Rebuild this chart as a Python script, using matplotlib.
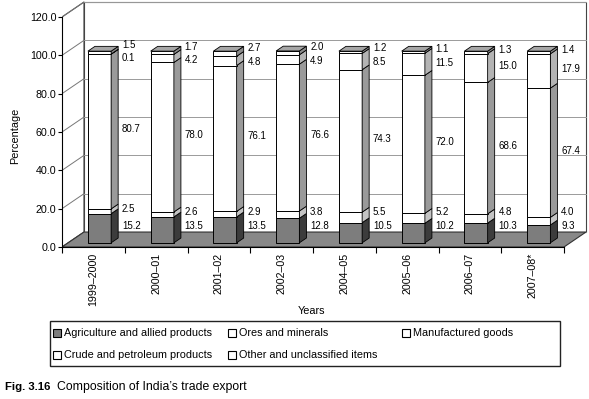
import matplotlib

matplotlib.use("Agg")
import matplotlib.pyplot as plt
from matplotlib.patches import Polygon, Rectangle

plt.rcParams["font.family"] = ["Liberation Sans", "DejaVu Sans"]

years = ["1999–2000", "2000–01", "2001–02", "2002–03",
         "2004–05", "2005–06", "2006–07", "2007–08*"]
agriculture = [15.2, 13.5, 13.5, 12.8, 10.5, 10.2, 10.3, 9.3]
ores = [2.5, 2.6, 2.9, 3.8, 5.5, 5.2, 4.8, 4.0]
manufactured = [80.7, 78.0, 76.1, 76.6, 74.3, 72.0, 68.6, 67.4]
crude = [0.1, 4.2, 4.8, 4.9, 8.5, 11.5, 15.0, 17.9]
other = [1.5, 1.7, 2.7, 2.0, 1.2, 1.1, 1.3, 1.4]

series = [agriculture, ores, manufactured, crude, other]
names = ["Agriculture and allied products", "Ores and minerals",
         "Manufactured goods", "Crude and petroleum products",
         "Other and unclassified items"]
front_col = ["#7d7d7d", "white", "white", "white", "white"]
side_col = ["#3c3c3c", "#c4c4c4", "#9a9a9a", "#b4b4b4", "#8a8a8a"]

n = len(years)
DX, DY = 0.35, 7.8          # depth of the walls/floor (data units)
bx, by = 0.28 * DX, 0.28 * DY   # bar front offset into the depth
ddx, ddy = 0.32 * DX, 0.32 * DY  # bar depth
w = 0.37

fig = plt.figure(figsize=(5.89, 3.99), dpi=100)
ax = fig.add_axes([62 / 589, 1 - 247 / 399, 527 / 589, 247 / 399])
ax.set_xlim(0, 527 / 62.75)
ax.set_ylim(0, 247 / 1.9167)

# back wall, left wall and floor
ax.add_patch(Polygon([(DX, DY), (n + DX, DY), (n + DX, 120 + DY), (DX, 120 + DY)],
                     closed=True, fc="white", ec="#444444", lw=0.8, zorder=0))
ax.add_patch(Polygon([(0, 0), (DX, DY), (DX, 120 + DY), (0, 120)],
                     closed=True, fc="white", ec="#444444", lw=0.8, zorder=0))
for g in range(0, 121, 20):
    ax.plot([DX, n + DX], [g + DY, g + DY], color="#9a9a9a", lw=0.7, zorder=0.5)
    ax.plot([0, DX], [g, g + DY], color="#777777", lw=0.7, zorder=0.5)
ax.add_patch(Polygon([(0, 0), (n, 0), (n + DX, DY), (DX, DY)],
                     closed=True, fc="#888888", ec="#333333", lw=0.8, zorder=1))

# stacked 3-D looking bars
xl = [i + 0.5 - w / 2 + bx for i in range(n)]
cum = [0.0] * n
for k, vals in enumerate(series):
    ax.bar(xl, vals, width=w, bottom=[c + by for c in cum], align="edge",
           color=front_col[k], edgecolor="black", lw=0.7, zorder=3)
    for i in range(n):
        xr = xl[i] + w
        y0, y1 = cum[i] + by, cum[i] + vals[i] + by
        ax.add_patch(Polygon([(xr, y0), (xr + ddx, y0 + ddy), (xr + ddx, y1 + ddy), (xr, y1)],
                             closed=True, fc=side_col[k], ec="black", lw=0.6, zorder=3))
    cum = [c + v for c, v in zip(cum, vals)]
for i in range(n):
    t = cum[i] + by
    ax.add_patch(Polygon([(xl[i], t), (xl[i] + w, t), (xl[i] + w + ddx, t + ddy), (xl[i] + ddx, t + ddy)],
                         closed=True, fc="#a6a6a6", ec="black", lw=0.6, zorder=3))

# value labels right of each bar, nudged apart where segments are thin
gap = 7.0
for i in range(n):
    base = 0.0
    pos = []
    for vals in series:
        pos.append(base + vals[i] / 2 + 3.3)
        base += vals[i]
    for _ in range(40):
        for j in range(len(pos) - 1):
            if pos[j + 1] - pos[j] < gap:
                m = (pos[j] + pos[j + 1]) / 2
                pos[j], pos[j + 1] = m - gap / 2, m + gap / 2
    pos[0] = max(pos[0], 11)
    pos[1] = max(pos[1], pos[0] + gap)
    for j, vals in enumerate(series):
        ax.text(xl[i] + w + ddx + 0.06, pos[j], f"{vals[i]:.1f}",
                fontsize=7, va="center", ha="left", zorder=5)

# axes
for s in ["top", "right"]:
    ax.spines[s].set_visible(False)
ax.spines["left"].set_bounds(0, 120)
ax.spines["bottom"].set_bounds(0, n)
ax.spines["left"].set_zorder(2)
ax.spines["bottom"].set_zorder(2)
ax.set_yticks(range(0, 121, 20))
ax.set_yticklabels([f"{v:.1f}" for v in range(0, 121, 20)], fontsize=7.7)
ax.tick_params(axis="y", length=3, width=0.8, pad=1)
ax.set_xticks(range(n + 1))
ax.set_xticklabels([])
ax.set_xticks([i + 0.5 for i in range(n)], minor=True)
ax.set_xticklabels(years, minor=True, rotation=90, fontsize=7.7, va="top")
ax.tick_params(axis="x", which="major", length=4, width=0.8)
ax.tick_params(axis="x", which="minor", length=0, pad=4)
ax.set_ylabel("Percentage", fontsize=7.8)
ax.yaxis.set_label_coords(-0.08, 0.451)
ax.set_xlabel("Years", fontsize=7.8)
ax.xaxis.set_label_coords(0.4725, -0.24)

# legend box, laid out like the original (fixed column starts)
W, H = 589, 399
fig.add_artist(Rectangle((50 / W, 1 - 366 / H), 510 / W, 45 / H, transform=fig.transFigure,
                         fc="white", ec="#222222", lw=1.0))
cols = [53, 228, 402, 53, 228]
rows = [333, 333, 333, 355, 355]
for k, (cx, ry) in enumerate(zip(cols, rows)):
    fig.add_artist(Rectangle((cx / W, 1 - (ry + 4) / H), 8 / W, 8 / H,
                             transform=fig.transFigure, fc=front_col[k],
                             ec="black", lw=0.8))
    fig.text((cx + 11) / W, 1 - ry / H, names[k], fontsize=7.8, va="center", ha="left")

# caption
fig.text(5 / W, 1 - 387 / H, "Fig. 3.16", fontsize=8.2, fontweight="bold", va="center")
fig.text(57 / W, 1 - 387 / H, "Composition of India’s trade export", fontsize=8.8,
         va="center")

fig.savefig("out.png", dpi=100)
